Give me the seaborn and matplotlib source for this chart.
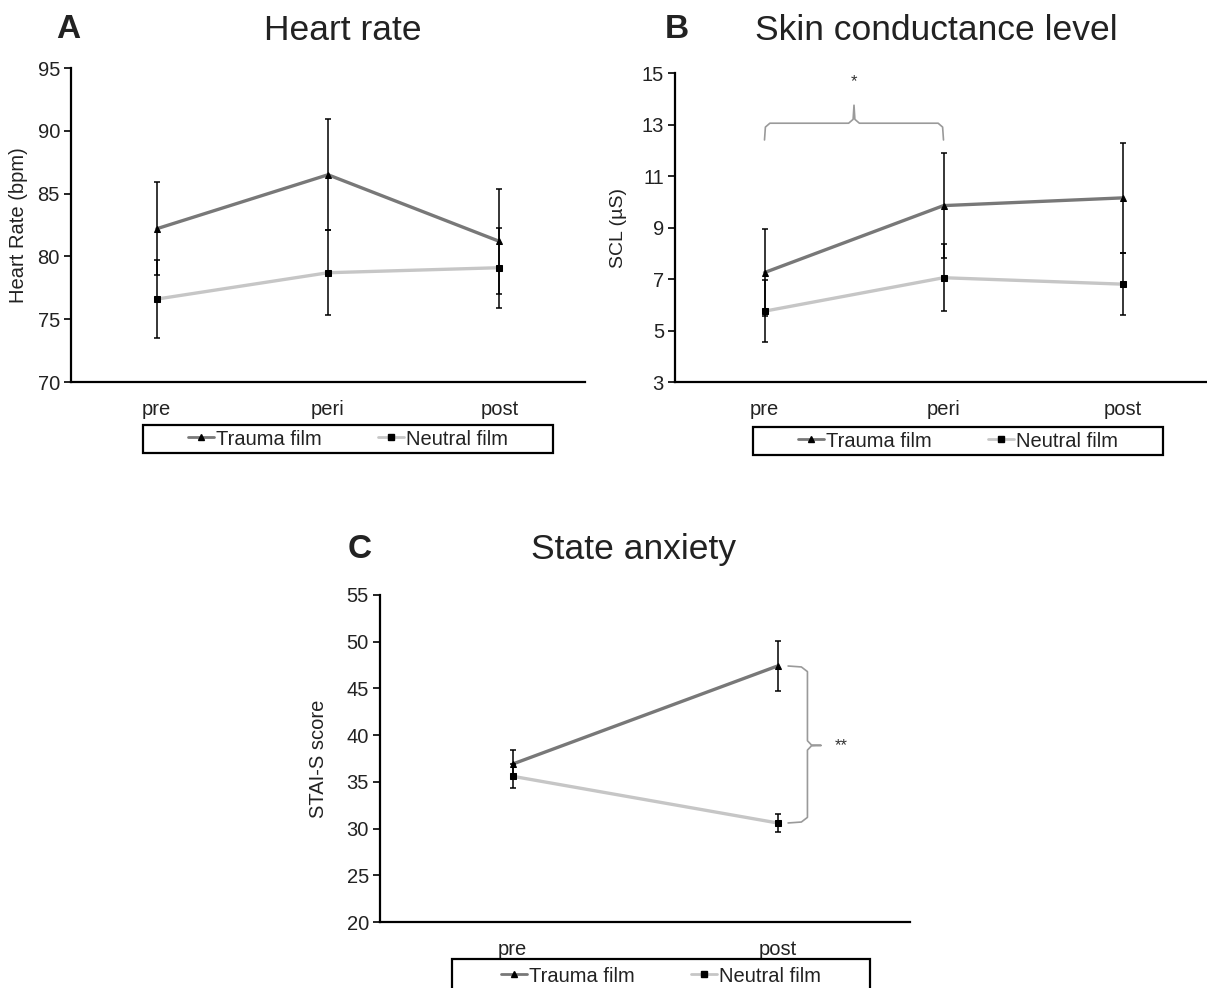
import numpy as np
import pandas as pd
import matplotlib
matplotlib.use("Agg")
import matplotlib.pyplot as plt
import seaborn as sns
from matplotlib.patches import Rectangle
from matplotlib.lines import Line2D

# ---------------- data ----------------
times3 = ["pre", "peri", "post"]
hr_trauma = [82.2, 86.5, 81.2]
hr_trauma_err = [3.7, 4.4, 4.2]
hr_neutral = [76.6, 78.7, 79.1]
hr_neutral_err = [3.1, 3.4, 3.2]

scl_trauma = [7.25, 9.85, 10.15]
scl_trauma_err = [1.7, 2.05, 2.15]
scl_neutral = [5.75, 7.05, 6.8]
scl_neutral_err = [1.2, 1.3, 1.2]

times2 = ["pre", "post"]
stai_trauma = [36.9, 47.4]
stai_trauma_err = [1.5, 2.7]
stai_neutral = [35.6, 30.6]
stai_neutral_err = [1.3, 1.0]

groups = ["Trauma film", "Neutral film"]
colors = {"Trauma film": "#787878", "Neutral film": "#c6c6c6"}
markers = {"Trauma film": "^", "Neutral film": "s"}

sns.set_style("white")
plt.rcParams["font.family"] = ["Liberation Sans", "DejaVu Sans"]
plt.rcParams["text.color"] = "#222222"

W, H = 1207, 988
fig = plt.figure(figsize=(W / 100, H / 100), dpi=100)


def ax_at(l, t, r, b):
    return fig.add_axes([l / W, 1 - b / H, (r - l) / W, (b - t) / H])


def panel(ax, times, tr, tr_e, ne, ne_e, ylim, yticks, ylabel, ylab_x, ylab_size):
    df = pd.DataFrame({
        "time": list(times) * 2,
        "value": list(tr) + list(ne),
        "group": [groups[0]] * len(times) + [groups[1]] * len(times),
    })
    sns.lineplot(data=df, x="time", y="value", hue="group", style="group",
                 markers=markers, dashes=False, palette=colors, lw=2.4,
                 markersize=5, mfc="black", mec="black", ax=ax, legend=False,
                 sort=False, errorbar=None)
    x = np.arange(len(times))
    ax.errorbar(x, tr, yerr=tr_e, fmt="none", ecolor="black", elinewidth=1.1,
                capsize=2.5, capthick=1.1, zorder=5)
    ax.errorbar(x, ne, yerr=ne_e, fmt="none", ecolor="black", elinewidth=1.1,
                capsize=2.5, capthick=1.1, zorder=5)
    n = len(times)
    ax.set_xlim(-0.5, n - 0.5)
    ax.set_ylim(*ylim)
    ax.set_yticks(yticks)
    ax.set_xticks(x, labels=times)
    ax.set_xticks(np.arange(n) + 0.5, minor=True)
    ax.tick_params(axis="x", which="major", length=0, pad=13, labelsize=14.5,
                   labelcolor="#222222")
    ax.tick_params(axis="x", which="minor", length=5, width=1.4,
                   direction="out", color="black")
    ax.tick_params(axis="y", which="major", length=5, width=1.2,
                   direction="out", labelsize=14.5, labelcolor="#222222",
                   color="black", left=True, pad=3)
    for s in ["top", "right"]:
        ax.spines[s].set_visible(False)
    for s in ["left", "bottom"]:
        ax.spines[s].set_color("black")
        ax.spines[s].set_linewidth(1.6)
    ax.set_xlabel("")
    ax.set_ylabel(ylabel, fontsize=ylab_size, color="#222222")
    ax.yaxis.set_label_coords(ylab_x, 0.5)
    ax.set_facecolor("none")


axA = ax_at(71, 68, 585, 382)
panel(axA, times3, hr_trauma, hr_trauma_err, hr_neutral, hr_neutral_err,
      (70, 95), np.arange(70, 96, 5), "Heart Rate (bpm)", -0.083, 14.5)

axB = ax_at(675, 73, 1212, 382)
panel(axB, times3, scl_trauma, scl_trauma_err, scl_neutral, scl_neutral_err,
      (3, 15), np.arange(3, 16, 2), "SCL (µS)", -0.09, 14)

axC = ax_at(380, 595, 910, 922)
panel(axC, times2, stai_trauma, stai_trauma_err, stai_neutral, stai_neutral_err,
      (20, 55), np.arange(20, 56, 5), "STAI-S score", -0.098, 14.5)

# significance braces
bx = [0, 0.005, 0.03, 0.47, 0.495, 0.5, 0.505, 0.53, 0.97, 0.995, 1.0]
by = [12.4, 12.9, 13.05, 13.05, 13.2, 13.75, 13.2, 13.05, 13.05, 12.9, 12.4]
axB.plot(bx, by, color="#9a9a9a", lw=1.2, clip_on=False)
axB.text(0.5, 14.65, "*", ha="center", va="center", fontsize=12, color="#333333")

cx = [1.04, 1.09, 1.113, 1.113, 1.128, 1.165, 1.128, 1.113, 1.113, 1.09, 1.04]
cy = [47.4, 47.3, 46.8, 39.4, 38.95, 38.9, 38.85, 38.4, 31.2, 30.7, 30.6]
axC.plot(cx, cy, color="#9a9a9a", lw=1.2, clip_on=False)
axC.text(1.215, 38.9, "**", ha="left", va="center", fontsize=12, color="#333333")

# titles
fig.text(68 / W, 1 - 30 / H, "A", fontsize=24, fontweight="bold", ha="center", va="center")
fig.text(343 / W, 1 - 30 / H, "Heart rate", fontsize=25.5, ha="center", va="center")
fig.text(677 / W, 1 - 30 / H, "B", fontsize=24, fontweight="bold", ha="center", va="center")
fig.text(936 / W, 1 - 30 / H, "Skin conductance level", fontsize=25.5, ha="center", va="center")
fig.text(360 / W, 1 - 550 / H, "C", fontsize=24, fontweight="bold", ha="center", va="center")
fig.text(634 / W, 1 - 550 / H, "State anxiety", fontsize=25.5, ha="center", va="center")

# legends with boxes
handles = [Line2D([], [], color=colors[g], lw=2, marker=markers[g], ms=4.5,
                  mfc="black", mec="black") for g in groups]


def legend_box(l, t, r, b):
    fig.patches.append(Rectangle((l / W, 1 - b / H), (r - l) / W, (b - t) / H,
                                 transform=fig.transFigure, fill=False,
                                 edgecolor="black", lw=1.6))
    fig.legend(handles, groups, loc="center",
               bbox_to_anchor=((l + r) / 2 / W, 1 - (t + b) / 2 / H),
               ncol=2, frameon=False, fontsize=14.5, handlelength=1.3,
               handletextpad=0.1, columnspacing=2.8, borderpad=0)


legend_box(143, 425, 553, 453)
legend_box(753, 427, 1163, 455)
legend_box(452, 959, 870, 993)

fig.savefig("out.png", dpi=100)
